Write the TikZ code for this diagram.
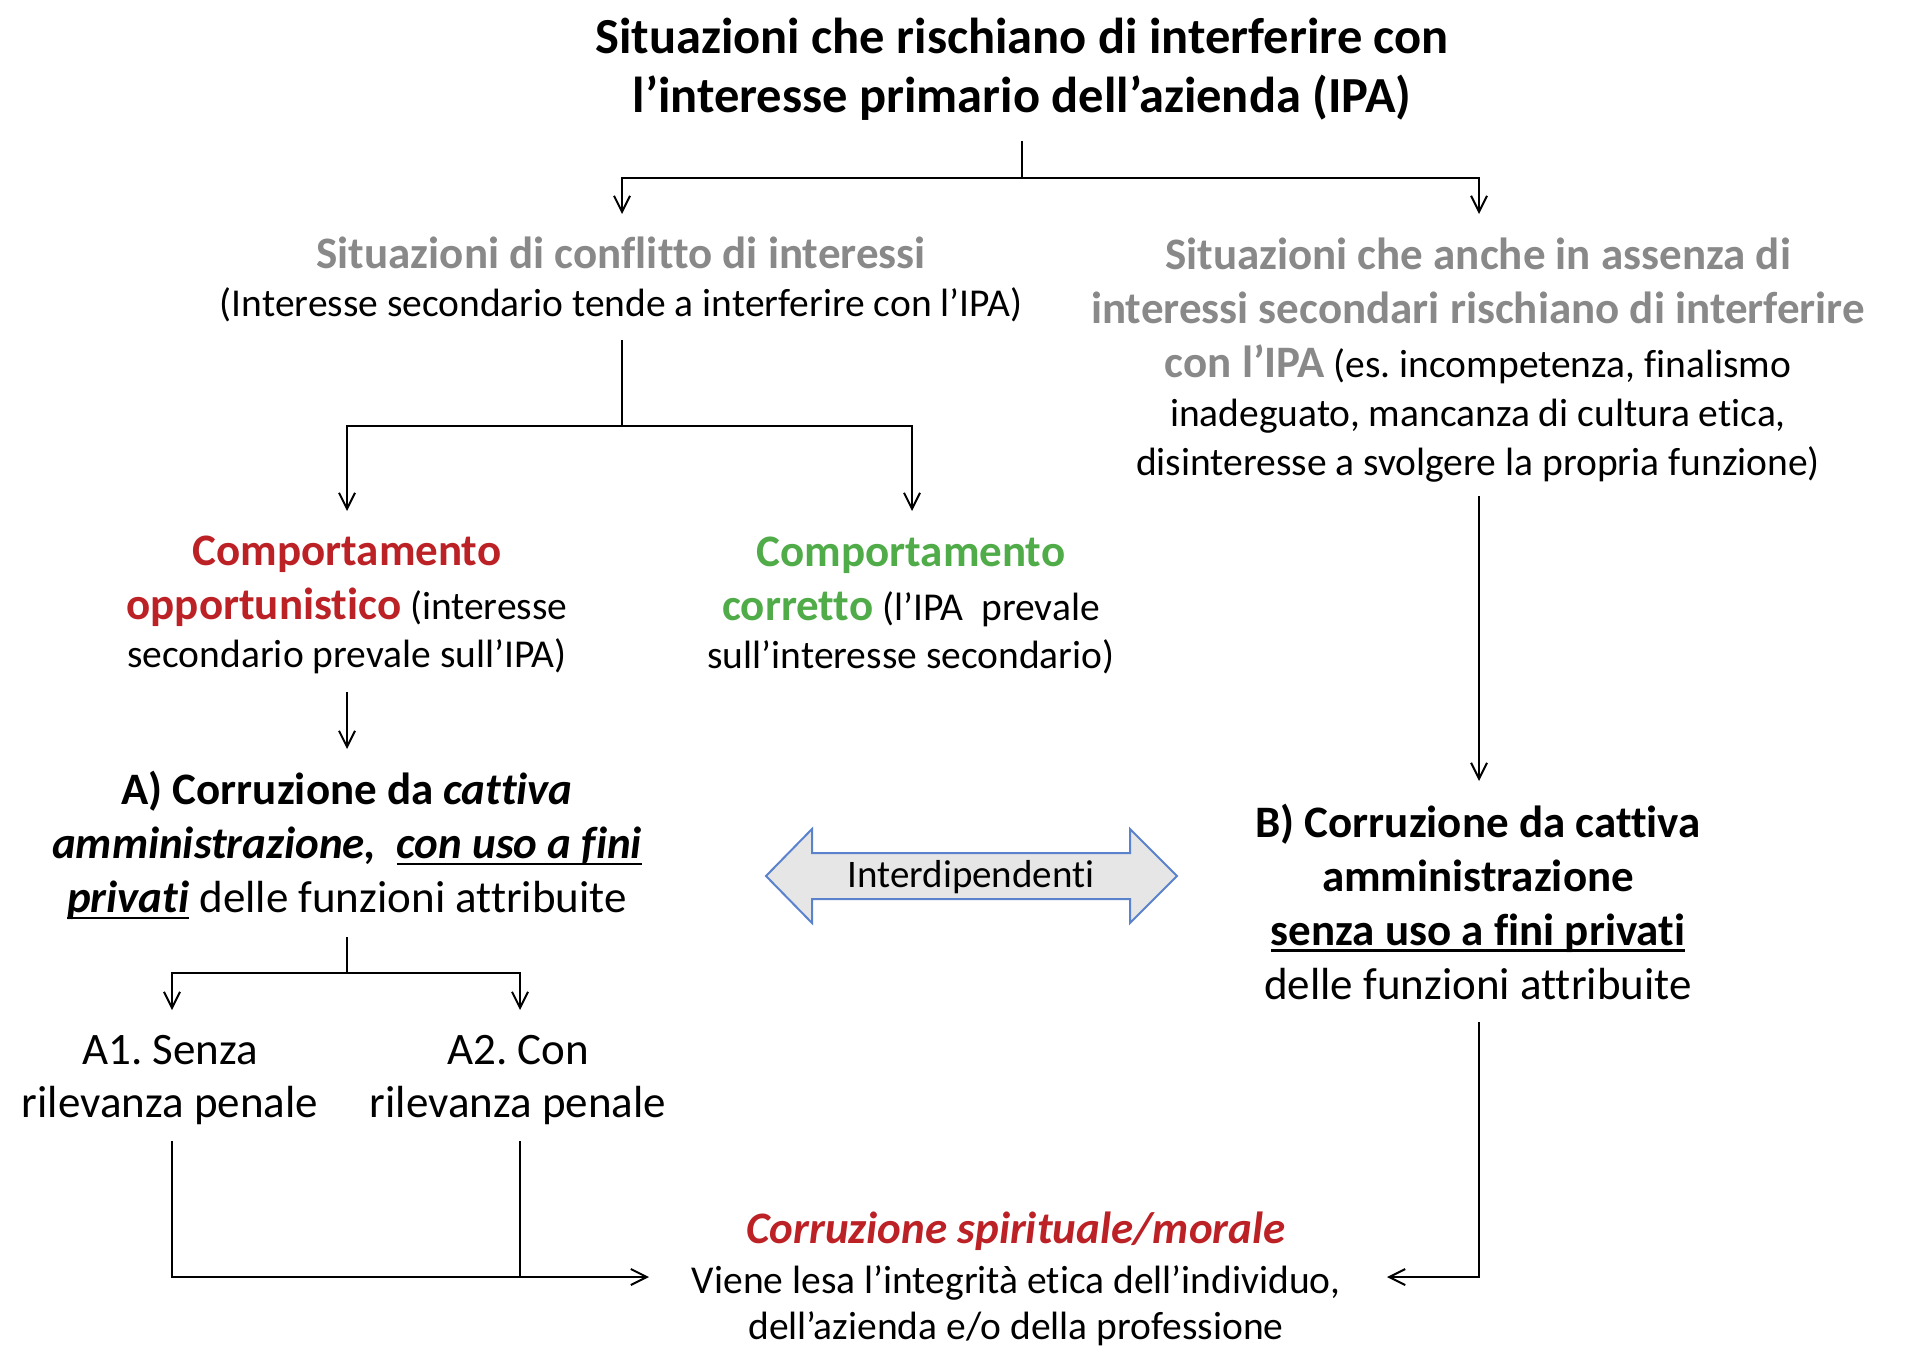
\documentclass[tikz,border=0pt]{standalone}
\usepackage{fontspec}
\setmainfont{Carlito}[Ligatures=NoCommon]
\usetikzlibrary{arrows.meta}
\definecolor{hgray}{RGB}{137,137,137}
\definecolor{hred}{RGB}{188,33,38}
\definecolor{hgreen}{RGB}{80,172,72}
\definecolor{arrfill}{RGB}{231,230,230}
\definecolor{arrblue}{RGB}{90,130,205}
\newcommand{\myfs}[2]{\fontsize{#1}{#2}\selectfont}
\newcommand{\bigtxt}[1]{{\fontsize{45}{45}\selectfont #1}}
\newcommand{\myul}[1]{\setbox0\hbox{#1}\rlap{\rule[-7pt]{\wd0}{2.6pt}}\box0\relax}
\tikzset{
  txt/.style={inner sep=0pt, align=center, text=black},
  ln/.style={line width=2pt, draw=black},
  arr/.style={ln, -{Straight Barb[length=16pt,width=16pt,line width=2pt]}},
}
\frenchspacing
\begin{document}
\begin{tikzpicture}[x=1pt,y=-1pt]
\fill[white] (0,0) rectangle (1920,1348);
\useasboundingbox (0,0) rectangle (1920,1348);

% texts
\node[txt, font=\myfs{50.5}{59}\bfseries] (title) at (1022,69) {Situazioni che rischiano di interferire con\\l’interesse primario dell’azienda (IPA)};

\node[txt, font=\myfs{39.5}{48}] (conf) at (621,279.5) {\bigtxt{\textcolor{hgray}{\textbf{Situazioni di conflitto di interessi}}}\\(Interesse secondario tende a interferire con l’IPA)};

\node[txt, font=\myfs{39.5}{49}] (noint) at (1478,360) {\bigtxt{\textcolor{hgray}{\textbf{Situazioni che anche in assenza di}}}\\[5pt]\bigtxt{\textcolor{hgray}{\textbf{interessi secondari rischiano di interferire}}}\\[5pt]\bigtxt{\textcolor{hgray}{\textbf{con l’IPA}}} (es. incompetenza, finalismo\\inadeguato, mancanza di cultura etica,\\disinteresse a svolgere la propria funzione)};

\node[txt, font=\myfs{39.5}{48}] (opp) at (347,605) {\bigtxt{\textcolor{hred}{\textbf{Comportamento}}}\\[6pt]\bigtxt{\textcolor{hred}{\textbf{opportunistico}}} (interesse\\secondario prevale sull’IPA)};

\node[txt, font=\myfs{39.5}{48}] (cor) at (911,605) {\bigtxt{\textcolor{hgreen}{\textbf{Comportamento}}}\\[6pt]\bigtxt{\textcolor{hgreen}{\textbf{corretto}}} (l’IPA\ \ prevale\\sull’interesse secondario)};

\node[txt, font=\myfs{45}{54}] (A) at (347,845) {\textbf{A) Corruzione da \textit{cattiva}}\\\textbf{\textit{amministrazione,}\ \ \myul{\textit{con uso a fini}}}\\\myul{\textbf{\textit{privati}}} delle funzioni attribuite};

\node[txt, font=\myfs{45}{54}] (B) at (1478,901.5) {\textbf{B) Corruzione da cattiva}\\\textbf{amministrazione}\\\myul{\textbf{senza uso a fini privati}}\\delle funzioni attribuite};

\node[txt, font=\myfs{45}{53}] (A1) at (170,1080) {A1. Senza\\rilevanza penale};
\node[txt, font=\myfs{45}{53}] (A2) at (518,1080) {A2. Con\\rilevanza penale};

\node[txt, font=\myfs{39.5}{46}] (bot) at (1016,1278.5) {\textcolor{hred}{\fontsize{45}{46}\selectfont\bfseries\itshape Corruzione spirituale/morale}\\[4pt]Viene lesa l’integrità etica dell’individuo,\\dell’azienda e/o della professione};

% double arrow
\coordinate (ic) at (971,877);
\filldraw[fill=arrfill, draw=arrblue, line width=2pt, line join=miter]
  (766,876) -- (812,829) -- (812,853) -- (1130,853) -- (1130,829) -- (1177,876)
  -- (1130,923) -- (1130,899) -- (812,899) -- (812,923) -- cycle;
\node[txt, font=\myfs{39}{40}] (inter) at (ic) {Interdipendenti};

% connector points
\coordinate (title-out) at (1022,141);
\coordinate (j0) at (1022,178);
\coordinate (conf-in) at (622,214);
\coordinate (noint-in) at (1479,214);
\coordinate (conf-out) at (622,340);
\coordinate (j1) at (622,426);
\coordinate (opp-in) at (347,511);
\coordinate (cor-in) at (912,511);
\coordinate (opp-out) at (347,692);
\coordinate (A-in) at (347,749);
\coordinate (noint-out) at (1479,496);
\coordinate (B-in) at (1479,781);
\coordinate (A-out) at (347,937);
\coordinate (j2) at (347,973);
\coordinate (A1-in) at (172,1010);
\coordinate (A2-in) at (520,1010);
\coordinate (A1-out) at (172,1141);
\coordinate (A2-out) at (520,1141);
\coordinate (bot-inL) at (649,1277);
\coordinate (B-out) at (1479,1022);
\coordinate (bot-inR) at (1387,1277);

% connectors
\draw[ln] (title-out) -- (j0);
\draw[arr] (j0) -| (conf-in);
\draw[arr] (j0) -| (noint-in);
\draw[ln] (conf-out) -- (j1);
\draw[arr] (j1) -| (opp-in);
\draw[arr] (j1) -| (cor-in);
\draw[arr] (opp-out) -- (A-in);
\draw[arr] (noint-out) -- (B-in);
\draw[ln] (A-out) -- (j2);
\draw[arr] (j2) -| (A1-in);
\draw[arr] (j2) -| (A2-in);
\draw[arr] (A1-out) |- (bot-inL);
\draw[ln] (A2-out) -- (A2-out |- bot-inL);
\draw[arr] (B-out) |- (bot-inR);
\end{tikzpicture}
\end{document}
